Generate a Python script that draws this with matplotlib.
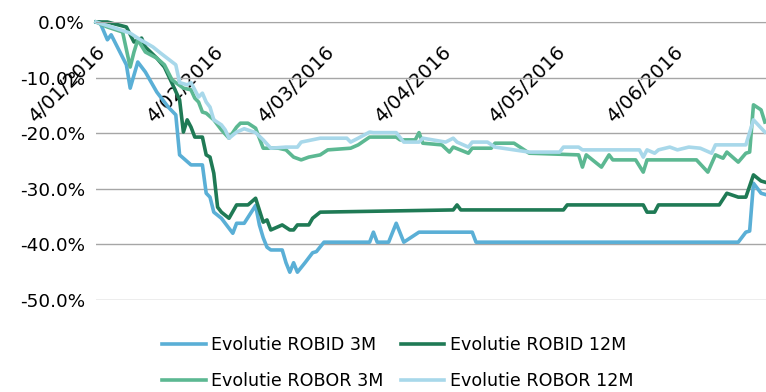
import pandas as pd
import matplotlib
matplotlib.use('Agg')
import matplotlib.pyplot as plt
from matplotlib.ticker import FuncFormatter

# evolutia ratelor (%) fata de 4 ian 2016
robid3m_dates = ['2016-01-04', '2016-01-05', '2016-01-07', '2016-01-08', '2016-01-12', '2016-01-13',
                 '2016-01-15', '2016-01-17', '2016-01-20', '2016-01-23', '2016-01-25', '2016-01-26',
                 '2016-01-29', '2016-02-01', '2016-02-02', '2016-02-03', '2016-02-04', '2016-02-06',
                 '2016-02-09', '2016-02-10', '2016-02-12', '2016-02-15', '2016-02-16', '2016-02-17',
                 '2016-02-18', '2016-02-19', '2016-02-22', '2016-02-23', '2016-02-24', '2016-02-25',
                 '2016-02-26', '2016-02-28', '2016-03-01', '2016-03-02', '2016-03-04', '2016-03-16',
                 '2016-03-17', '2016-03-18', '2016-03-21', '2016-03-23', '2016-03-25', '2016-03-29',
                 '2016-04-12', '2016-04-13', '2016-06-21', '2016-06-23', '2016-06-24', '2016-06-25',
                 '2016-06-27', '2016-06-28']
robid3m_vals = [0.0, 0.0, -3.2, -2.3, -7.7, -11.9,
                -7.2, -9.0, -12.6, -15.3, -16.7, -23.9,
                -25.7, -25.7, -30.8, -31.5, -34.2, -35.3,
                -38.0, -36.2, -36.2, -33.0, -36.5, -38.8,
                -40.5, -41.0, -41.0, -43.3, -45.0, -43.3,
                -45.0, -43.3, -41.5, -41.3, -39.6, -39.6,
                -37.8, -39.6, -39.6, -36.2, -39.6, -37.8,
                -37.8, -39.6, -39.6, -37.8, -37.6, -29.0,
                -30.8, -31.0]

robid12m_dates = ['2016-01-04', '2016-01-07', '2016-01-12', '2016-01-14', '2016-01-16', '2016-01-17',
                  '2016-01-20', '2016-01-22', '2016-01-24', '2016-01-26', '2016-01-27', '2016-01-28',
                  '2016-01-29', '2016-01-30', '2016-02-01', '2016-02-02', '2016-02-03', '2016-02-04',
                  '2016-02-05', '2016-02-06', '2016-02-08', '2016-02-10', '2016-02-13', '2016-02-15',
                  '2016-02-17', '2016-02-18', '2016-02-19', '2016-02-22', '2016-02-24', '2016-02-25',
                  '2016-02-26', '2016-02-29', '2016-03-01', '2016-03-03', '2016-04-07', '2016-04-08',
                  '2016-04-09', '2016-05-06', '2016-05-07', '2016-05-27', '2016-05-28', '2016-05-30',
                  '2016-05-31', '2016-06-16', '2016-06-18', '2016-06-21', '2016-06-23', '2016-06-25',
                  '2016-06-27', '2016-06-28']
robid12m_vals = [0.0, 0.0, -0.9, -3.6, -2.9, -4.5,
                 -6.5, -8.1, -11.0, -14.0, -19.8, -17.6,
                 -18.9, -20.7, -20.7, -23.9, -24.3, -27.2,
                 -33.3, -34.2, -35.3, -32.9, -32.9, -31.7,
                 -36.0, -35.6, -37.4, -36.5, -37.4, -37.4,
                 -36.5, -36.5, -35.3, -34.2, -33.8, -32.9,
                 -33.8, -33.8, -32.9, -32.9, -34.2, -34.2,
                 -32.9, -32.9, -30.8, -31.5, -31.5, -27.5,
                 -28.6, -28.8]

robor3m_dates = ['2016-01-04', '2016-01-07', '2016-01-11', '2016-01-13', '2016-01-14', '2016-01-15',
                 '2016-01-17', '2016-01-20', '2016-01-22', '2016-01-24', '2016-01-27', '2016-01-29',
                 '2016-01-30', '2016-01-31', '2016-02-01', '2016-02-02', '2016-02-04', '2016-02-06',
                 '2016-02-08', '2016-02-10', '2016-02-11', '2016-02-13', '2016-02-15', '2016-02-17',
                 '2016-02-21', '2016-02-23', '2016-02-25', '2016-02-27', '2016-02-29', '2016-03-03',
                 '2016-03-05', '2016-03-11', '2016-03-13', '2016-03-16', '2016-03-23', '2016-03-24',
                 '2016-03-28', '2016-03-29', '2016-03-30', '2016-04-04', '2016-04-06', '2016-04-07',
                 '2016-04-11', '2016-04-12', '2016-04-17', '2016-04-18', '2016-04-23', '2016-04-27',
                 '2016-05-10', '2016-05-11', '2016-05-12', '2016-05-16', '2016-05-18', '2016-05-19',
                 '2016-05-25', '2016-05-27', '2016-05-28', '2016-06-10', '2016-06-13', '2016-06-15',
                 '2016-06-17', '2016-06-18', '2016-06-21', '2016-06-23', '2016-06-24', '2016-06-25',
                 '2016-06-27', '2016-06-28']
robor3m_vals = [0.0, -0.9, -1.8, -8.1, -5.4, -3.2,
                -5.4, -6.5, -7.7, -10.4, -11.9, -12.2,
                -13.7, -14.4, -16.2, -16.4, -17.6, -19.4,
                -20.9, -18.9, -18.2, -18.2, -19.1, -22.7,
                -22.7, -23.0, -24.3, -24.8, -24.3, -23.9,
                -23.0, -22.7, -22.1, -20.7, -20.7, -21.2,
                -21.2, -19.9, -21.8, -22.1, -23.4, -22.5,
                -23.6, -22.7, -22.7, -21.8, -21.8, -23.6,
                -23.9, -26.1, -23.9, -26.1, -23.9, -24.8,
                -24.8, -27.0, -24.8, -24.8, -27.0, -23.9,
                -24.5, -23.4, -25.2, -23.6, -23.4, -14.9,
                -15.8, -18.0]

robor12m_dates = ['2016-01-04', '2016-01-09', '2016-01-13', '2016-01-15', '2016-01-19', '2016-01-21',
                  '2016-01-25', '2016-01-26', '2016-01-28', '2016-01-29', '2016-01-31', '2016-02-01',
                  '2016-02-02', '2016-02-03', '2016-02-04', '2016-02-06', '2016-02-07', '2016-02-08',
                  '2016-02-10', '2016-02-12', '2016-02-15', '2016-02-17', '2016-02-19', '2016-02-23',
                  '2016-02-26', '2016-02-27', '2016-03-03', '2016-03-10', '2016-03-11', '2016-03-13',
                  '2016-03-16', '2016-03-17', '2016-03-23', '2016-03-25', '2016-03-29', '2016-03-30',
                  '2016-04-05', '2016-04-07', '2016-04-08', '2016-04-11', '2016-04-12', '2016-04-16',
                  '2016-04-18', '2016-04-27', '2016-05-05', '2016-05-06', '2016-05-10', '2016-05-11',
                  '2016-05-26', '2016-05-27', '2016-05-28', '2016-05-30', '2016-05-31', '2016-06-03',
                  '2016-06-05', '2016-06-08', '2016-06-11', '2016-06-14', '2016-06-15', '2016-06-23',
                  '2016-06-25', '2016-06-28']
robor12m_vals = [0.0, -1.1, -2.0, -2.9, -4.5, -5.6,
                 -7.7, -10.9, -11.3, -10.9, -13.5, -12.8,
                 -14.4, -15.3, -17.6, -18.5, -19.4, -20.9,
                 -19.8, -19.2, -19.9, -21.2, -22.7, -22.5,
                 -22.5, -21.6, -20.9, -20.9, -21.6, -20.9,
                 -19.8, -19.9, -19.9, -21.6, -21.6, -20.9,
                 -21.6, -20.9, -21.6, -22.5, -21.6, -21.6,
                 -22.5, -23.4, -23.4, -22.5, -22.5, -23.0,
                 -23.0, -24.3, -23.0, -23.6, -23.0, -22.5,
                 -23.0, -22.5, -22.7, -23.6, -22.1, -22.1,
                 -17.6, -19.8]

serii = [
    ('Evolutie ROBID 3M', robid3m_dates, robid3m_vals, '#5aafd6'),
    ('Evolutie ROBID 12M', robid12m_dates, robid12m_vals, '#1f7a55'),
    ('Evolutie ROBOR 3M', robor3m_dates, robor3m_vals, '#5cb892'),
    ('Evolutie ROBOR 12M', robor12m_dates, robor12m_vals, '#a8d8ea'),
]

start = pd.Timestamp('2016-01-04')
luni = pd.date_range('2016-01-04', periods=6, freq=pd.DateOffset(months=1))

fig = plt.figure(figsize=(7.66, 3.92), dpi=100)
ax = fig.add_axes([0.1253, 0.2347, 0.8747, 0.7092])

linii = {}
for nume, d, v, c in serii:
    ln, = ax.plot(pd.to_datetime(d), v, color=c, lw=2.6, label=nume,
                  solid_joinstyle='round', clip_on=False)
    linii[nume] = ln

ax.set_ylim(-50, 0)
ax.set_yticks(range(-50, 1, 10))
ax.yaxis.set_major_formatter(FuncFormatter(lambda y, p: '{:.1f}%'.format(y)))
ax.set_xlim(start, start + pd.Timedelta(hours=176.3 * 24))

# axa x sta pe linia de 0%, etichetele cad in interiorul graficului
ax.spines['bottom'].set_position(('data', 0))
ax.spines['bottom'].set_color('#a6a6a6')
for s in ['top', 'right', 'left']:
    ax.spines[s].set_visible(False)
ax.set_xticks(luni)
ax.set_xticklabels([f'{t.day}/{t.month:02d}/{t.year}' for t in luni])
ax.tick_params(axis='x', length=0, pad=15, labelsize=14)
for lbl in ax.get_xticklabels():
    lbl.set_rotation(45)
    lbl.set_ha('right')
    lbl.set_va('top')
    lbl.set_rotation_mode('anchor')
ax.tick_params(axis='y', length=0, pad=8, labelsize=13.2)

ax.grid(axis='y', color='#a6a6a6', lw=1)
ax.set_axisbelow(True)

ordine = ['Evolutie ROBID 3M', 'Evolutie ROBOR 3M', 'Evolutie ROBID 12M', 'Evolutie ROBOR 12M']
fig.legend([linii[n] for n in ordine], ordine, ncol=2, loc='center',
           bbox_to_anchor=(0.519, 0.074), frameon=False, fontsize=12.6,
           handlelength=2.5, handletextpad=0.3, columnspacing=1.0, labelspacing=1.0)

plt.savefig('out.png', dpi=100)
